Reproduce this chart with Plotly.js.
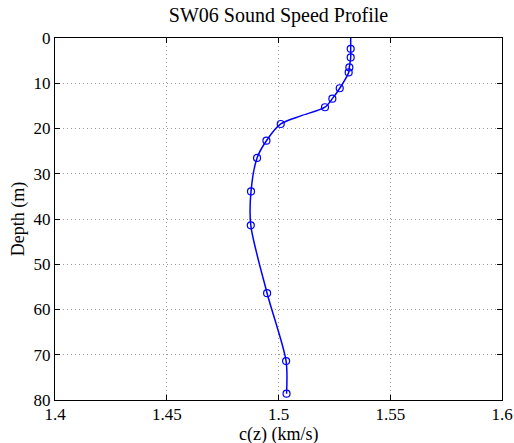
<!DOCTYPE html>
<html>
<head>
<meta charset="utf-8">
<script src="https://cdn.plot.ly/plotly-3.0.1.min.js"></script>
<style>html,body{margin:0;padding:0;background:#fff;}#chart{width:514px;height:443px;}</style>
</head>
<body>
<div id="chart"></div>
<script>
// Measured sound speed samples
const depthSamples = [2.4, 4.3, 6.5, 7.6, 11.1, 13.4, 15.3, 19.0, 22.7, 26.5, 33.9, 41.4, 56.4, 71.4, 78.6];
const speedSamples = [1.5323, 1.5323, 1.5317, 1.5314, 1.5274, 1.5241, 1.5208, 1.5010, 1.4946, 1.4904, 1.4877, 1.4876, 1.4949, 1.5034, 1.5036];
// Interpolated profile (surface value added)
const depthProfile = [0, 2.4, 4.3, 6.5, 7.6, 11.1, 13.4, 15.3, 17.2, 19.0, 22.7, 26.5, 33.9, 41.4, 56.4, 71.4, 78.6];
const speedProfile = [1.5323, 1.5323, 1.5323, 1.5317, 1.5314, 1.5274, 1.5241, 1.5208, 1.5100, 1.5010, 1.4946, 1.4904, 1.4877, 1.4876, 1.4949, 1.5034, 1.5036];
const xTicks = [1.4, 1.45, 1.5, 1.55, 1.6];
const xTickLabels = ['1.4', '1.45', '1.5', '1.55', '1.6'];
const yTicks = [0, 10, 20, 30, 40, 50, 60, 70, 80];

const blue = 'rgb(0,0,255)';
const traces = [
  {x: speedProfile, y: depthProfile, mode: 'lines', line: {color: blue, width: 1.5, shape: 'spline', smoothing: 0.8}, hoverinfo: 'skip'},
  {x: speedSamples, y: depthSamples, mode: 'markers', marker: {symbol: 'circle-open', size: 7, color: blue, line: {width: 1.2, color: blue}}}
];
const font = {family: '"Liberation Serif", "Times New Roman", serif', size: 18, color: '#000'};
const tickFont = Object.assign({}, font, {size: 17});
const titleFont = Object.assign({}, font, {size: 20});
const axisCommon = {
  showline: true, linecolor: '#000', linewidth: 1, mirror: 'ticks',
  ticks: 'inside', ticklen: 5, tickcolor: '#000', tickwidth: 1,
  showgrid: true, gridcolor: '#999', griddash: '1px,3px', gridwidth: 1,
  zeroline: false, tickfont: tickFont, automargin: false
};
const layout = {
  width: 514, height: 443,
  margin: {l: 55, r: 12, t: 38, b: 43},
  paper_bgcolor: '#fff', plot_bgcolor: '#fff',
  showlegend: false,
  font: font,
  title: {text: 'SW06 Sound Speed Profile', font: titleFont, xref: 'paper', x: 0.5, xanchor: 'center', yref: 'container', y: 0.981, yanchor: 'top'},
  xaxis: Object.assign({}, axisCommon, {
    range: [1.4, 1.6], tickvals: xTicks, ticktext: xTickLabels, ticklabelstandoff: -1
  }),
  yaxis: Object.assign({}, axisCommon, {
    range: [80, 0], tickvals: yTicks,
    title: {text: 'Depth (m)', font: font, standoff: 4}
  }),
  annotations: [{
    text: 'c(z) (km/s)', font: font, showarrow: false, borderpad: 0,
    xref: 'paper', yref: 'paper', x: 0.5, y: 0, xanchor: 'center', yanchor: 'middle', yshift: -34
  }]
};
Plotly.newPlot('chart', traces, layout, {displayModeBar: false, staticPlot: true});
</script>
</body>
</html>
